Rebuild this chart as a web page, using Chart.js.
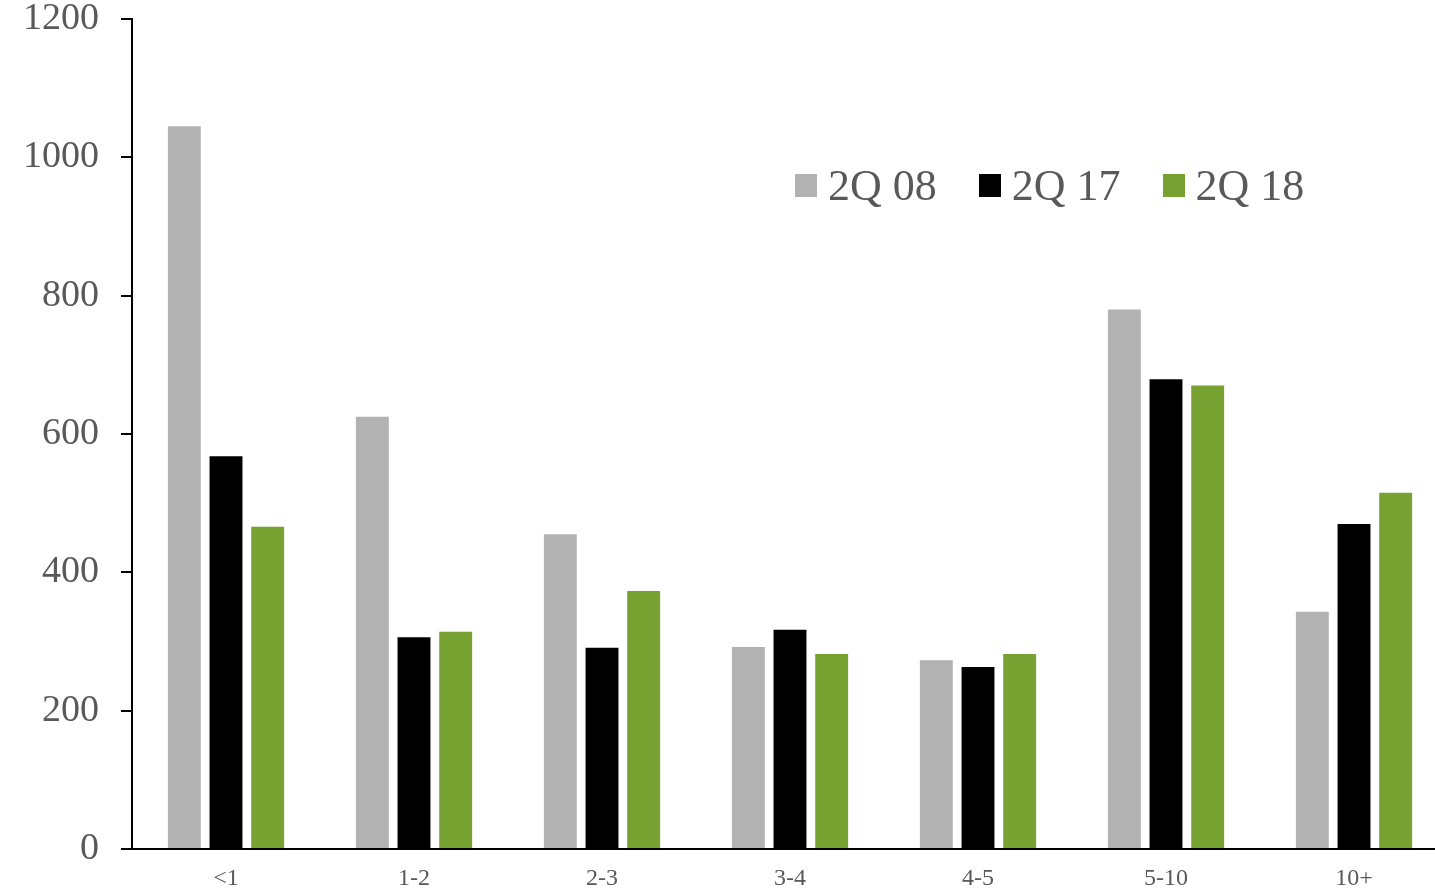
<!DOCTYPE html>
<html>
<head>
<meta charset="utf-8">
<script src="https://cdn.jsdelivr.net/npm/chart.js@4.4.1/dist/chart.umd.min.js"></script>
<style>
  html, body { margin: 0; padding: 0; background: #fff; overflow: hidden; }
  #wrap { position: relative; width: 1435px; height: 890px; overflow: hidden; }
  #chart { position: absolute; left: 0; top: -22px; }
  #legend { position: absolute; top: 160px; left: 795px; display: flex; align-items: center;
            font-family: "Liberation Serif", serif; font-size: 44px; color: #595959; }
  #legend .item { display: flex; align-items: center; margin-right: 42px; }
  #legend .box { width: 22px; height: 23px; margin-right: 11px; }
</style>
</head>
<body>
<div id="wrap">
  <canvas id="chart" width="1448" height="912"></canvas>
  <div id="legend"></div>
</div>
<script>
// maturity buckets (years)
const categories = ['<1', '1-2', '2-3', '3-4', '4-5', '5-10', '10+'];
const seriesNames = ['2Q 08', '2Q 17', '2Q 18'];
const seriesColors = ['#b2b2b2', '#000000', '#77a232'];

const values2Q08 = [1045, 625, 455, 292, 273, 780, 343];
const values2Q17 = [568, 306, 291, 317, 263, 679, 470];
const values2Q18 = [466, 314, 373, 282, 282, 670, 515];

const yTicks = [0, 200, 400, 600, 800, 1000, 1200];

const seriesValues = [values2Q08, values2Q17, values2Q18];

const datasets = seriesNames.map((name, i) => ({
  label: name,
  data: seriesValues[i],
  backgroundColor: seriesColors[i],
  borderWidth: 0,
  categoryPercentage: 0.665,
  barPercentage: 0.79,
}));

// legend sits inside the plot, built as plain markup
const legendEl = document.getElementById('legend');
seriesNames.forEach((name, i) => {
  const item = document.createElement('div');
  item.className = 'item';
  const box = document.createElement('div');
  box.className = 'box';
  box.style.background = seriesColors[i];
  const label = document.createElement('span');
  label.textContent = name;
  item.appendChild(box);
  item.appendChild(label);
  legendEl.appendChild(item);
});

new Chart(document.getElementById('chart'), {
  type: 'bar',
  data: { labels: categories, datasets },
  options: {
    responsive: false,
    animation: false,
    layout: { padding: 0 },
    plugins: { legend: { display: false }, tooltip: { enabled: false } },
    scales: {
      x: {
        grid: { display: false, drawTicks: false },
        border: { color: '#000', width: 2 },
        ticks: {
          color: '#595959',
          padding: 15,
          font: { family: '"Liberation Serif", serif', size: 24 },
        },
        afterFit: (scale) => { scale.height = 37; },
      },
      y: {
        min: 0,
        max: 1200,
        afterBuildTicks: (scale) => { scale.ticks = yTicks.map((v) => ({ value: v })); },
        grid: { drawOnChartArea: false, drawTicks: true, tickLength: 11, color: '#000', lineWidth: 2 },
        border: { color: '#000', width: 2 },
        ticks: {
          color: '#595959',
          padding: 22,
          callback: (v) => String(v),
          font: { family: '"Liberation Serif", serif', size: 38, lineHeight: 1 },
        },
        afterFit: (scale) => { scale.width = 132; },
      },
    },
  },
});
</script>
</body>
</html>
